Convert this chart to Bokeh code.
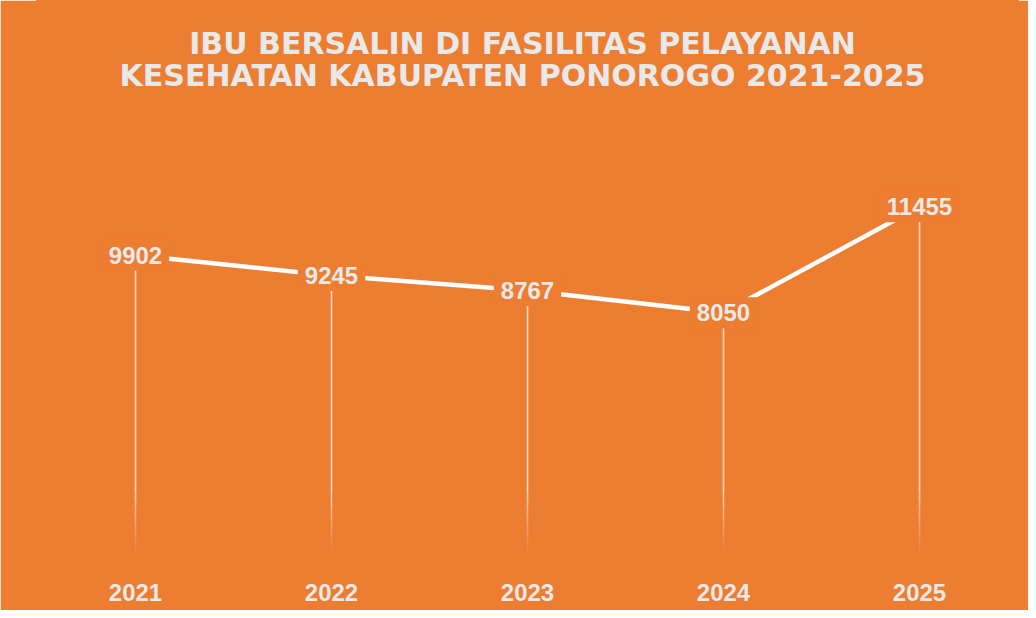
import numpy as np
from bokeh.plotting import figure
from bokeh.models import Range1d, FactorRange, Label
from bokeh.core.properties import value
from bokeh.embed import file_html
from bokeh.resources import INLINE

# ---- data ----
years = ["2021", "2022", "2023", "2024", "2025"]
births = [9902, 9245, 8767, 8050, 11455]
title_lines = ["IBU BERSALIN DI FASILITAS PELAYANAN",
               "KESEHATAN KABUPATEN PONOROGO 2021-2025"]

BG = "#ED7D31"
TXT = "#E9E9E9"

p = figure(width=1028, height=610, output_backend="svg", toolbar_location=None,
           x_range=FactorRange(factors=years, range_padding=0),
           y_range=Range1d(0, 18080), title=None, y_axis_location=None,
           min_border_left=37, min_border_right=11, min_border_top=0,
           min_border_bottom=47)
p.background_fill_color = BG
p.border_fill_color = BG
p.outline_line_color = BG
p.outline_line_width = 3
p.xgrid.grid_line_color = None
p.ygrid.grid_line_color = None

# drop lines (solid part + fading part near the bottom)
fade_top = 0.2 * max(births)
p.segment(x0=years, y0=[fade_top] * len(years), x1=years, y1=births,
          line_color="white", line_alpha=0.75, line_width=1.6)
n = 30
edges = np.linspace(0, fade_top, n + 1)
for i in range(n):
    a = 0.75 * ((i + 0.5) / n) ** 1.5
    p.segment(x0=years, y0=[edges[i]] * len(years), x1=years,
              y1=[edges[i + 1]] * len(years),
              line_color="white", line_alpha=a, line_width=1.6)

# main line
p.line(x=years, y=births, line_color="white", line_width=4.5)

# data labels with background boxes
p.text(x=years, y=births, text=[str(v) for v in births],
       text_align="center", text_baseline="middle",
       text_font=value("Liberation Sans"), text_font_style="bold",
       text_font_size="24px", text_color=TXT,
       background_fill_color=BG, padding=7)

# x axis
ax = p.xaxis[0]
ax.axis_line_color = None
ax.major_tick_line_color = None
ax.minor_tick_line_color = None
ax.major_tick_out = 0
ax.major_tick_in = 0
ax.major_label_standoff = 20
ax.major_label_text_font = "Liberation Sans"
ax.major_label_text_font_style = "bold"
ax.major_label_text_font_size = "24px"
ax.major_label_text_color = TXT

# title (two lines)
for i, t in enumerate(title_lines):
    p.add_layout(Label(x=485, y=520 - 32 * i, x_units="screen", y_units="screen",
                       text=t, text_align="center", text_baseline="alphabetic",
                       text_font="DejaVu Sans", text_font_style="bold",
                       text_font_size="30px", text_color=TXT))

open("out.html", "w").write(file_html(p, INLINE))
